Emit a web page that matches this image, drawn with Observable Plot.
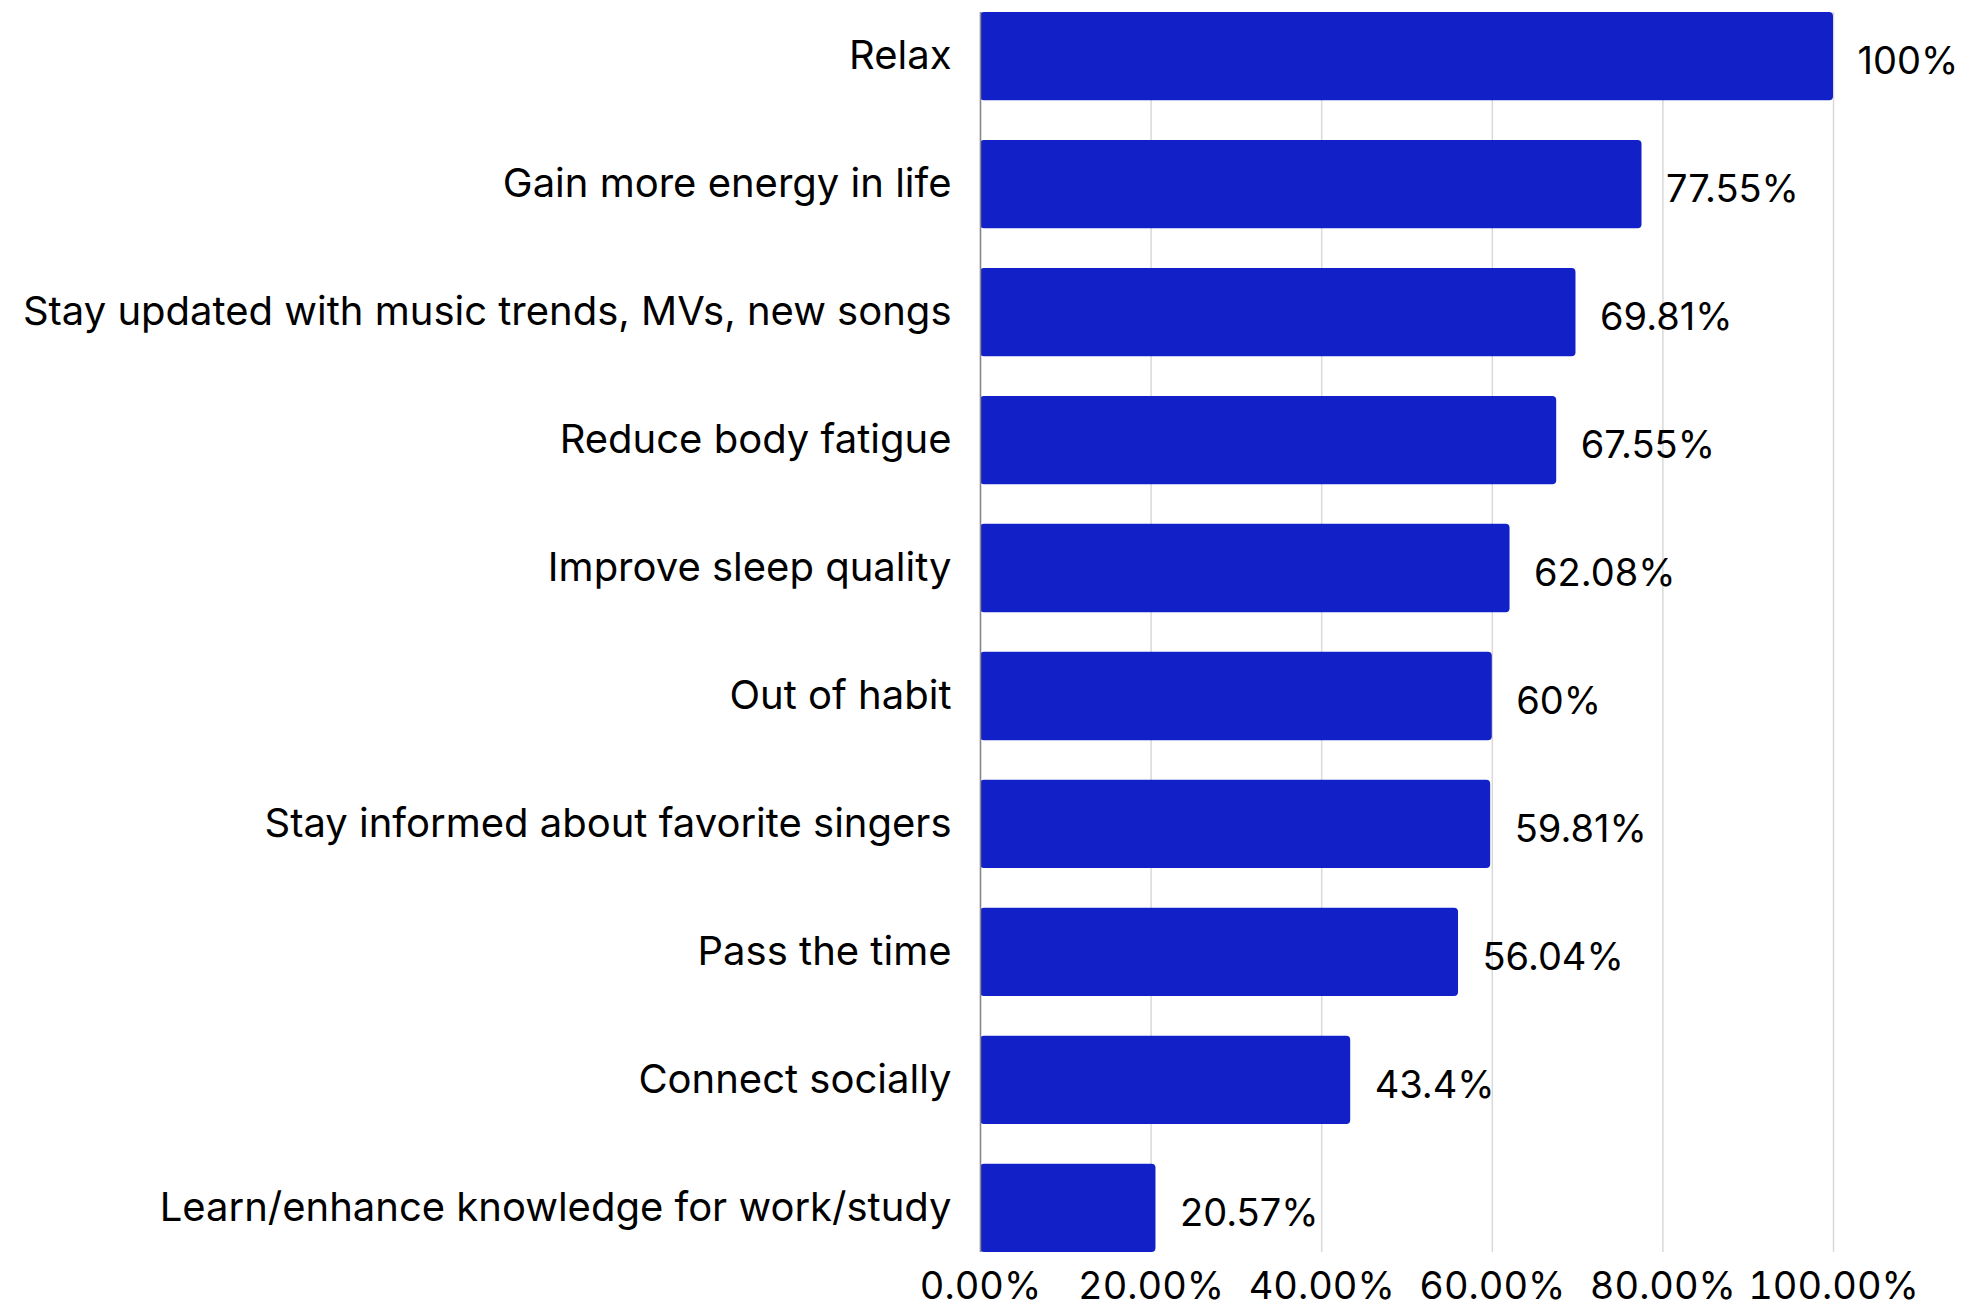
<!DOCTYPE html>
<html>
<head>
<meta charset="utf-8">
<script src="https://cdn.jsdelivr.net/npm/d3@7"></script>
<script src="https://cdn.jsdelivr.net/npm/@observablehq/plot@0.6"></script>
<style>
  html, body { margin: 0; padding: 0; background: #fff; }
</style>
</head>
<body>
<div id="chart"></div>
<script>
const categories = [
  "Relax",
  "Gain more energy in life",
  "Stay updated with music trends, MVs, new songs",
  "Reduce body fatigue",
  "Improve sleep quality",
  "Out of habit",
  "Stay informed about favorite singers",
  "Pass the time",
  "Connect socially",
  "Learn/enhance knowledge for work/study"
];
const values = [100, 77.55, 69.81, 67.55, 62.08, 60, 59.81, 56.04, 43.4, 20.57];
const xTicks = [0, 20, 40, 60, 80, 100];

const data = categories.map((c, i) => ({category: c, value: values[i]}));
const fmtTick = d => d.toFixed(2) + "%";

const chart = Plot.plot({
  width: 1967,
  height: 1308,
  marginLeft: 980,
  marginRight: 134,
  marginTop: 12,
  marginBottom: 56,
  style: {fontFamily: "Inter, sans-serif", fontSize: "38px", color: "#000", background: "#fff"},
  x: {domain: [0, 100], ticks: xTicks, tickFormat: fmtTick, label: null},
  y: {domain: categories, paddingInner: 0.31, paddingOuter: 0, round: false, label: null},
  marks: [
    Plot.gridX(xTicks, {stroke: "#d9d9d9", strokeOpacity: 1, strokeWidth: 1.5}),
    Plot.barX(data, {x: "value", y: "category", fill: "#1220c8", rx: 4}),
    Plot.ruleX([0], {stroke: "#888", strokeWidth: 1.5}),
    Plot.text(data, {x: "value", y: "category", text: d => d.value + "%", textAnchor: "start", dx: 24, dy: 5, fontSize: 38, fill: "#000"}),
    Plot.axisY({tickSize: 0, tickPadding: 29, fontSize: 40, label: null}),
    Plot.axisX(xTicks, {tickSize: 0, tickPadding: 20, fontSize: 38, tickFormat: fmtTick, label: null})
  ]
});
document.getElementById("chart").appendChild(chart);
</script>
</body>
</html>
